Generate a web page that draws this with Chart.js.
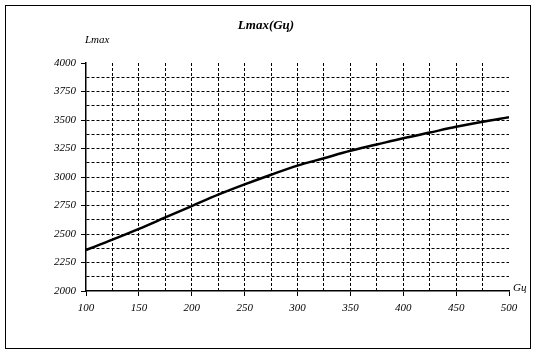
<!DOCTYPE html>
<html>
<head>
<meta charset="utf-8">
<script src="https://cdn.jsdelivr.net/npm/chart.js@4/dist/chart.umd.min.js"></script>
<style>
  body { margin: 0; background: #fff; }
  #wrap { width: 537px; height: 355px; position: relative; }
</style>
</head>
<body>
<div id="wrap"><canvas id="lmax-chart"></canvas></div>
<script>
// Gц values and Lmax
const gu_values = [100, 125, 150, 175, 200, 225, 250, 275, 300, 325, 350, 375, 400, 425, 450, 475, 500];
const lmax_values = [2360, 2450, 2545, 2645, 2745, 2845, 2935, 3020, 3100, 3165, 3230, 3285, 3340, 3390, 3440, 3485, 3525];
const x_labels = [100, 150, 200, 250, 300, 350, 400, 450, 500];
const y_labels = [2000, 2250, 2500, 2750, 3000, 3250, 3500, 3750, 4000];
const chart_title = 'Lmax(Gц)';
const y_title = 'Lmax';
const x_title = 'Gц';

const serif = '"Liberation Serif", "Times New Roman", serif';

//ramka i podpisy
const frame = {
   id: 'frame',
   beforeDraw(chart) {
      const ctx = chart.ctx;
      ctx.save();
      ctx.fillStyle = '#fff';
      ctx.fillRect(0, 0, chart.width, chart.height);
      ctx.strokeStyle = '#000';
      ctx.lineWidth = 1;
      ctx.strokeRect(5.5, 5.5, 525, 343);
      ctx.restore();
   },
   afterDraw(chart) {
      const ctx = chart.ctx;
      const area = chart.chartArea;
      ctx.save();
      ctx.fillStyle = '#000';
      ctx.textBaseline = 'middle';
      ctx.textAlign = 'center';
      ctx.font = 'italic bold 13px ' + serif;
      ctx.fillText(chart_title, 266, 26);
      ctx.textAlign = 'left';
      ctx.font = 'italic 11px ' + serif;
      ctx.fillText(y_title, 85, 40);
      ctx.fillText(x_title, area.right + 4, area.bottom - 3);
      ctx.restore();
   }
};

const points = gu_values.map((g, i) => ({ x: g, y: lmax_values[i] }));

new Chart(document.getElementById('lmax-chart'), {
   type: 'line',
   data: {
      datasets: [{
         data: points,
         borderColor: '#000',
         borderWidth: 2.5,
         pointRadius: 0,
         cubicInterpolationMode: 'monotone',
         fill: false
      }]
   },
   options: {
      responsive: true,
      maintainAspectRatio: false,
      animation: false,
      devicePixelRatio: 1,
      layout: { padding: { left: 0, top: 63, right: 28, bottom: 0 } },
      plugins: { legend: { display: false }, tooltip: { enabled: false } },
      scales: {
         x: {
            type: 'linear',
            min: 100,
            max: 500,
            afterFit: (scale) => { scale.height = 64; },
            ticks: {
               stepSize: 25,
               autoSkip: false,
               maxRotation: 0,
               padding: 6,
               color: '#000',
               font: { family: serif, size: 11, style: 'italic' },
               callback: (v) => x_labels.includes(v) ? v : ''
            },
            grid: {
               color: (c) => (c.tick && (c.tick.value === 100 || c.tick.value === 500)) ? 'rgba(0,0,0,0)' : '#000',
               lineWidth: 1,
               tickLength: 5,
               tickColor: (c) => (c.tick && x_labels.includes(c.tick.value)) ? '#000' : 'rgba(0,0,0,0)'
            },
            border: { display: true, color: '#000', width: 1.5, dash: [3, 2] }
         },
         y: {
            min: 2000,
            max: 4000,
            afterFit: (scale) => { scale.width = 86; },
            ticks: {
               stepSize: 125,
               autoSkip: false,
               padding: 5,
               color: '#000',
               font: { family: serif, size: 11, style: 'italic' },
               callback: (v) => y_labels.includes(v) ? v : ''
            },
            grid: {
               color: (c) => (c.tick && (c.tick.value === 2000 || c.tick.value === 4000)) ? 'rgba(0,0,0,0)' : '#000',
               lineWidth: 1,
               tickLength: 5,
               tickColor: (c) => (c.tick && y_labels.includes(c.tick.value)) ? '#000' : 'rgba(0,0,0,0)'
            },
            border: { display: true, color: '#000', width: 1.5, dash: [3, 2] }
         }
      }
   },
   plugins: [frame]
});
</script>
</body>
</html>
